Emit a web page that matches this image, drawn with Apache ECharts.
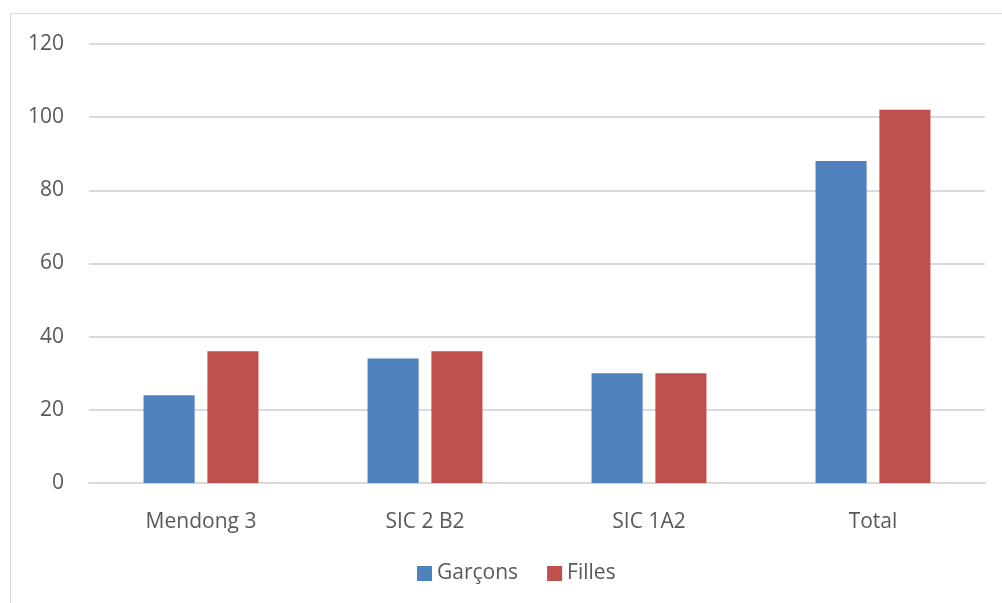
<!DOCTYPE html>
<html>
<head>
<meta charset="utf-8">
<script src="https://cdn.jsdelivr.net/npm/echarts@6/dist/echarts.min.js"></script>
<style>
  html, body { margin: 0; padding: 0; background: #fff; overflow: hidden; }
  #frame { position: absolute; left: 10px; top: 13px; width: 1100px; height: 700px; border: 1px solid #d9d9d9; box-sizing: border-box; }
  #bar { position: absolute; left: 0; top: 0; width: 1002px; height: 603px; }
</style>
</head>
<body>
<div id="frame"></div>
<div id="bar"></div>
<script>
let categories = ['Mendong 3', 'SIC 2 B2', 'SIC 1A2', 'Total']
let garcons = [24, 34, 30, 88]
let filles = [36, 36, 30, 102]
let seriesNames = ['Garçons', 'Filles']

let chart = echarts.init(document.getElementById('bar'))
let textColor = '#595959'
let font = 'Open Sans, Liberation Sans, sans-serif'

chart.setOption({
  animation: false,
  grid: { left: 89, right: 17, top: 44, bottom: 120, containLabel: false },
  legend: {
    data: seriesNames,
    bottom: 14,
    left: 412,
    itemWidth: 15,
    itemHeight: 15,
    itemGap: 29,
    icon: 'rect',
    textStyle: { color: textColor, fontSize: 21, fontFamily: font }
  },
  xAxis: {
    type: 'category',
    data: categories,
    axisLine: { lineStyle: { color: '#d9d9d9', width: 2 } },
    axisTick: { show: false },
    axisLabel: { color: textColor, fontSize: 21, fontFamily: font, margin: 29 }
  },
  yAxis: {
    type: 'value',
    min: 0,
    max: 120,
    interval: 20,
    axisLine: { show: false },
    axisTick: { show: false },
    splitLine: { lineStyle: { color: '#d9d9d9', width: 2 } },
    axisLabel: { color: textColor, fontSize: 21, fontFamily: font, margin: 25 }
  },
  series: [
    { name: seriesNames[0], type: 'bar', data: garcons, barWidth: '22.8%', barGap: '25%', itemStyle: { color: '#4f81bd' } },
    { name: seriesNames[1], type: 'bar', data: filles, barWidth: '22.8%', barGap: '25%', itemStyle: { color: '#c0504d' } }
  ]
})
</script>
</body>
</html>
